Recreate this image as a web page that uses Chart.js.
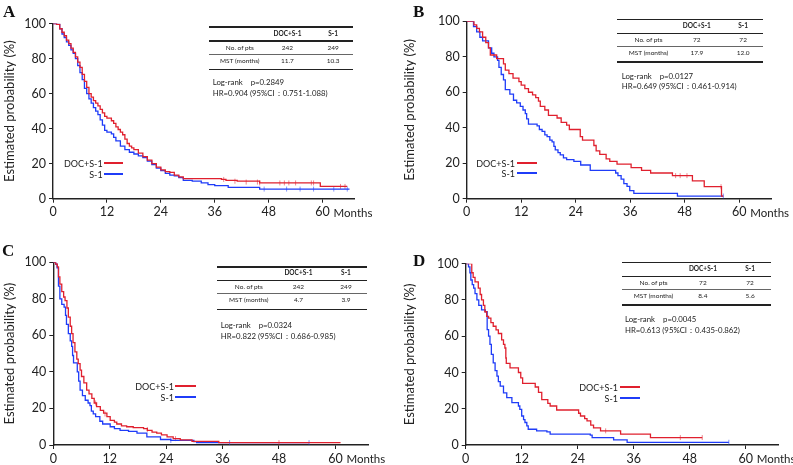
<!DOCTYPE html>
<html>
<head>
<meta charset="utf-8">
<script src="https://cdn.jsdelivr.net/npm/chart.js@4/dist/chart.umd.min.js"></script>
<style>
body { margin: 0; background: #fff; width: 793px; height: 465px; position: relative; overflow: hidden; font-family: Lato, "Open Sans", sans-serif; color: #222; }
canvas { position: absolute; }
.t { position: absolute; white-space: nowrap; line-height: 1; transform: translateY(-50%); }
.hl { position: absolute; background: #222; }
.letter { position: absolute; font-family: "Liberation Serif", serif; font-weight: bold; font-size: 17px; line-height: 1; color: #111; }
</style>
</head>
<body>
<script>
// Kaplan-Meier curves: [month, survival %]
// A: overall survival, all patients
const osAllDoc = [[0,100],[0.8,99.5],[1.5,97],[2,95],[2.5,93],[3,90.5],[3.5,88.5],[4,86],[4.5,83.5],[5,81],[5.5,78],[6,75],[6.5,71],[7,67],[7.5,63.5],[8,60],[8.5,58],[9,56],[9.5,54.5],[10,53],[10.5,51],[11,49],[11.5,47],[12,46],[13,44.5],[13.5,43],[14,41],[14.5,39.5],[15,38],[15.5,36.5],[16,34],[16.5,31.5],[17,30],[17.5,29],[18,28],[19,26],[20,24],[21,22],[22,20],[23,18],[24,16.5],[25,15.5],[26,15],[27,13.5],[28,12.5],[29,11.5],[37.5,11],[38.5,10.5],[41,10],[46,9],[59.5,7],[65.5,7]];
const osAllS1 = [[0,100],[0.8,99.5],[1.5,97],[2,94],[2.5,92],[3,89.5],[3.5,87.5],[4,85],[4.5,83],[5,80],[5.5,76],[6,72],[6.5,68],[7,63],[7.5,60],[8,57],[8.5,54.5],[9,52],[9.5,50],[10,48],[10.5,45],[11,42],[11.5,39],[12,38],[13,37],[13.5,35],[14,33],[15,30],[16,28],[17,26.5],[18,25.5],[19,24.5],[20,23.5],[21,21.5],[22,19.5],[23,17.5],[24,16],[25,14.5],[26,13.5],[27,13],[28,12],[29,10.5],[31,10],[33,9],[34.5,8],[36,7.5],[39,6.5],[46,5.5],[66,5.5]];
// B: overall survival, subgroup
const osSubDoc = [[0,100],[1.6,98],[2.2,96],[2.8,94],[3.5,91],[4.2,88],[4.8,85],[5.2,81],[6.6,79],[8.1,76],[8.5,72.5],[9.3,70.5],[10.2,68],[11.5,66],[12,64],[12.8,62],[13.6,60],[14.5,58.5],[15.2,57],[15.8,55],[16.2,52],[17.2,50],[18,47],[19.9,45.5],[20.8,43],[22,41.5],[22.6,39],[25,35],[25.5,33],[28,30],[28.5,27],[29.3,25],[30.7,22.5],[31.5,21],[33.1,19.5],[36.2,17.5],[38.5,16],[40.5,14.5],[45.3,13],[49.7,10],[52.3,6.8],[56.1,1.5],[56.5,1.5]];
const osSubS1 = [[0,100],[1.5,97],[2.2,94],[2.9,91],[3.5,89],[4.8,85],[5.5,82],[6,80],[6.8,78],[7.1,74],[7.6,70],[8.1,67],[8.5,61.5],[9.5,59],[10.3,55.5],[11,54],[11.8,52],[12.4,50],[12.9,48],[13.2,45],[13.6,42],[15.5,41],[16,39],[16.6,38],[17.2,36],[17.7,35],[18.3,33],[18.8,32],[19.2,29.5],[19.5,27.5],[20.1,26],[20.6,24.7],[21.3,23],[22,22],[23.6,21],[25.1,19],[27.2,16],[32.8,14.5],[33.3,13],[34,11],[34.6,8.5],[35.3,7],[35.9,4.5],[36.8,3],[46.4,1.5],[56.5,1.5]];
// C: progression-free survival, all patients
const pfsAllDoc = [[0,100],[0.5,99],[0.85,97.5],[1.1,92],[1.4,88],[1.8,84],[2.2,81],[2.5,79],[2.9,75],[3.2,70],[3.6,65],[3.9,61],[4.2,56],[4.6,51],[5,47],[5.3,44.5],[5.7,41],[6,37.5],[6.5,34],[7.1,30],[7.6,28],[8.2,25.5],[8.7,23],[9.2,21],[10,19],[10.7,17.5],[11.4,15.5],[12.1,13.5],[13,12.5],[13.5,11.5],[14.5,10.5],[15.6,10],[17,9.5],[19.2,9],[20,8],[21,7],[22,6.5],[23,5.5],[24.2,4.5],[25.5,3.5],[27,2.8],[29.5,2],[35.2,1.3],[61.1,1.3]];
const pfsAllS1 = [[0,100],[0.5,99],[0.8,97],[1.1,87],[1.4,80],[1.8,77],[2.3,75.5],[2.6,71],[2.8,66],[3.2,61],[3.6,57],[3.9,54],[4.1,49],[4.3,45],[5.1,40],[5.4,35],[5.7,30],[6.2,27],[6.8,24.5],[7.4,23],[7.8,21.5],[8.1,18.5],[8.5,17],[9,15.5],[9.9,13],[10.5,11.5],[12.1,10],[13,9],[14.2,8],[16,7.5],[17.8,6.5],[19.9,4.5],[22.8,3],[25,2.5],[29.9,1.8],[30.5,1.3],[54.4,1.3]];
// D: progression-free survival, subgroup
const pfsSubDoc = [[0,100],[1.05,100],[1.3,95],[1.6,92.5],[2,90],[2.7,86.5],[3.1,83],[3.4,80],[3.8,77],[4.1,73.5],[4.5,71],[4.9,70],[5.4,67.5],[5.9,65.5],[6.5,63.5],[7,61.5],[7.7,58],[8.1,55.5],[8.4,53.5],[8.6,48],[8.7,45],[9.5,42.5],[11.3,40],[11.8,37],[12.2,34],[14.9,32],[15.6,29],[16.3,25],[17.6,23],[18.1,21.5],[19.5,19.3],[24.2,17.5],[24.6,16],[25.5,14.5],[26,13.3],[26.8,11],[27.4,9.5],[28.9,7.8],[33.2,6],[39.6,4.1],[50.7,4.1]];
const pfsSubS1 = [[0,100],[0.6,98.3],[0.9,95],[1.1,91],[1.4,88.5],[1.7,86.5],[2,83.5],[2.4,80],[2.8,77],[3.4,74.5],[4.2,73.5],[4.6,63.6],[4.9,60],[5.2,55.5],[5.5,50],[5.9,45.3],[6.3,41],[6.7,38],[7,35],[7.4,32.5],[8.1,28.8],[8.8,26.1],[9.9,23.4],[11.3,21.5],[11.6,19.7],[12,16],[12.4,14],[12.7,12.4],[13.1,10.5],[13.4,8.7],[15.2,7.8],[17.4,7.2],[18.1,6],[26.7,5.5],[27.1,4.1],[31.7,2.8],[34.6,1.5],[56.4,1.5]];

// censor marks
const censorA = [[[38,11],[40.5,10],[43,9.5],[45.5,9.5],[46,9],[50.5,9],[51.5,9],[52.5,9],[54,9],[57.5,9],[58,9],[64,7],[65,7]], [[47,5.5],[52,5.5],[55,5.5],[58,5.5],[62.5,5.5],[65.5,5.5]]];
const censorB = [[[46,13],[47,13],[48.5,13],[56,6.8]], [[56.5,1.5]]];
const censorC = [[[9,23],[11,17],[20,8.5],[26,3.5],[48,1.3]], [[25,2.5],[37.5,1.3],[54.4,1.3]]];
const censorD = [[[30,7.8],[46,4.1],[50.7,4.1]], [[56.4,1.5]]];

const seriesNames = ['DOC+S-1', 'S-1'];
const rowNames = ['No. of  pts', 'MST (months)'];
const patients = [[242, 249], [72, 72], [242, 249], [72, 72]];
const mst = [['11.7', '10.3'], ['17.9', '12.0'], ['4.7', '3.9'], ['8.4', '5.6']];
const logRankP = ['0.2849', '0.0127', '0.0324', '0.0045'];
const hrText = ['HR=0.904 (95%CI\uff1a0.751-1.088)', 'HR=0.649 (95%CI\uff1a0.461-0.914)', 'HR=0.822 (95%CI\uff1a0.686-0.985)', 'HR=0.613 (95%CI\uff1a0.435-0.862)'];
const xTicks = [0, 12, 24, 36, 48, 60];
const yTicks = [0, 20, 40, 60, 80, 100];

const RED = '#e0202e';
const BLUE = '#1f3cf8';

// placement of each panel on the page (box = canvas, area = plot area)
const panels = [
    { letter: 'A', lx: 3, ly: 3, box: [0, 0, 400, 230], area: [53, 23.5, 354, 198.7], table: [209, 27, 144], stats: [212.7, 83.3, 94.3], legend: [102.7, 163.3, 174, 104, 123], doc: osAllDoc, s1: osAllS1, cens: censorA },
    { letter: 'B', lx: 413, ly: 2.5, box: [400, 0, 393, 230], area: [466.7, 21.3, 771, 198.7], table: [617.3, 19.3, 146], stats: [621.7, 76.7, 87.3], legend: [515, 162.7, 173.3, 516.7, 536.7], doc: osSubDoc, s1: osSubS1, cens: censorB },
    { letter: 'C', lx: 2, ly: 241.5, box: [0, 230, 400, 235], area: [53.3, 262.3, 368.3, 445], table: [216.7, 266.7, 150], stats: [220.7, 325.7, 337.3], legend: [174, 385.7, 396.7, 174.5, 196], doc: pfsAllDoc, s1: pfsAllS1, cens: censorC },
    { letter: 'D', lx: 413, ly: 251.5, box: [400, 230, 393, 235], area: [465.7, 263.7, 778.3, 445], table: [621.7, 262.3, 149], stats: [625, 320, 330.7], legend: [618, 386.7, 397.7, 620, 640], doc: pfsSubDoc, s1: pfsSubS1, cens: censorD },
];

function toXY(arr) {
    return arr.map(d => ({ x: d[0], y: d[1] }));
}

function addText(txt, x, y, css) {
    var d = document.createElement('div');
    d.className = 't';
    d.textContent = txt;
    d.style.left = x + 'px';
    d.style.top = y + 'px';
    Object.assign(d.style, css || {});
    document.body.appendChild(d);
    return d;
}

function addLine(x, y, w, h, color) {
    var d = document.createElement('div');
    d.className = 'hl';
    d.style.left = x + 'px';
    d.style.top = y + 'px';
    d.style.width = w + 'px';
    d.style.height = h + 'px';
    if (color) d.style.background = color;
    document.body.appendChild(d);
}

// "Months" next to the last tick label
const monthsLabel = {
    id: 'monthsLabel',
    afterDraw(chart) {
        var ctx = chart.ctx, xs = chart.scales.x;
        ctx.save();
        ctx.font = '11.5px Lato';
        ctx.fillStyle = '#222';
        ctx.textBaseline = 'middle';
        ctx.fillText('Months', xs.getPixelForValue(60) + 11, chart.chartArea.bottom + 14.5);
        ctx.restore();
    }
};

function makePanel(p, i) {
    var b = p.box, a = p.area;
    var c = document.createElement('canvas');
    c.width = b[2];
    c.height = b[3];
    c.style.left = b[0] + 'px';
    c.style.top = b[1] + 'px';
    document.body.appendChild(c);

    var curve = (data, color) => ({
        data: toXY(data), borderColor: color, borderWidth: 1.3, pointRadius: 0,
        stepped: 'before', fill: false, borderJoinStyle: 'miter'
    });
    var marks = (data, color) => ({
        data: toXY(data), showLine: false, pointStyle: 'line', pointRotation: 90,
        pointRadius: 2.5, pointBorderColor: color, pointBorderWidth: 1, borderColor: color
    });

    new Chart(c, {
        type: 'line',
        data: {
            datasets: [
                curve(p.doc, RED),
                curve(p.s1, BLUE),
                marks(p.cens[0], 'rgba(224,32,46,0.55)'),
                marks(p.cens[1], 'rgba(31,60,248,0.55)')
            ]
        },
        options: {
            responsive: false,
            animation: false,
            layout: { padding: { top: a[1] - b[1], right: b[0] + b[2] - a[2], left: 0, bottom: 0 } },
            plugins: { legend: { display: false }, tooltip: { enabled: false } },
            scales: {
                x: {
                    type: 'linear', min: 0, max: 67,
                    afterFit: s => { s.height = b[1] + b[3] - a[3]; },
                    afterBuildTicks: s => { s.ticks = xTicks.map(v => ({ value: v })); },
                    ticks: { color: '#222', font: { family: 'Lato', size: 12.5 }, padding: 2, maxRotation: 0 },
                    grid: { drawOnChartArea: false, tickLength: 4, color: '#222', lineWidth: 1 },
                    border: { color: '#222', width: 1.4 }
                },
                y: {
                    min: 0, max: 100,
                    afterFit: s => { s.width = a[0] - b[0]; },
                    afterBuildTicks: s => { s.ticks = yTicks.map(v => ({ value: v })); },
                    ticks: { color: '#222', font: { family: 'Lato', size: 12.5 }, padding: 3 },
                    grid: { drawOnChartArea: false, tickLength: 4, color: '#222', lineWidth: 1 },
                    border: { color: '#222', width: 1.4 },
                    title: { display: true, text: 'Estimated probability (%)', color: '#222', font: { family: 'Lato', size: 13 }, padding: { top: 2, bottom: 0 } }
                }
            }
        },
        plugins: [monthsLabel]
    });

    // panel letter
    var L = document.createElement('div');
    L.className = 'letter';
    L.textContent = p.letter;
    L.style.left = p.lx + 'px';
    L.style.top = p.ly + 'px';
    document.body.appendChild(L);

    // summary table
    var tx = p.table[0], ty = p.table[1], tw = p.table[2];
    var cols = [0.214, 0.545, 0.862].map(f => tx + f * tw);
    var small = { fontSize: '6.5px', transform: 'translate(-50%,-50%)' };
    addLine(tx, ty - 0.7, tw, 1.5);
    addText(seriesNames[0], cols[1], ty + 6.7, Object.assign({}, small, { fontWeight: 'bold' }));
    addText(seriesNames[1], cols[2], ty + 6.7, Object.assign({}, small, { fontWeight: 'bold' }));
    addLine(tx, ty + 13.3, tw, 1.4);
    addText(rowNames[0], cols[0], ty + 20.5, small);
    addText(String(patients[i][0]), cols[1], ty + 20.5, small);
    addText(String(patients[i][1]), cols[2], ty + 20.5, small);
    addLine(tx, ty + 26.5, tw, 0.6, '#666');
    addText(rowNames[1], cols[0], ty + 33.5, small);
    addText(mst[i][0], cols[1], ty + 33.5, small);
    addText(mst[i][1], cols[2], ty + 33.5, small);
    addLine(tx, ty + 41.8, tw, 1.5);

    // log-rank and hazard ratio
    var st = { fontSize: '7.8px' };
    addText('Log-rank\u00a0\u00a0\u00a0\u00a0p=' + logRankP[i], p.stats[0], p.stats[1], st);
    addText(hrText[i], p.stats[0], p.stats[2], st);

    // legend: label then line
    var lg = p.legend;
    var lt = { fontSize: '9px', transform: 'translate(-100%,-50%)' };
    addText(seriesNames[0], lg[0], lg[1], lt);
    addLine(lg[3], lg[1] - 1, lg[4] - lg[3], 2, RED);
    addText(seriesNames[1], lg[0], lg[2], lt);
    addLine(lg[3], lg[2] - 1, lg[4] - lg[3], 2, BLUE);
}

panels.forEach(makePanel);
</script>
</body>
</html>
